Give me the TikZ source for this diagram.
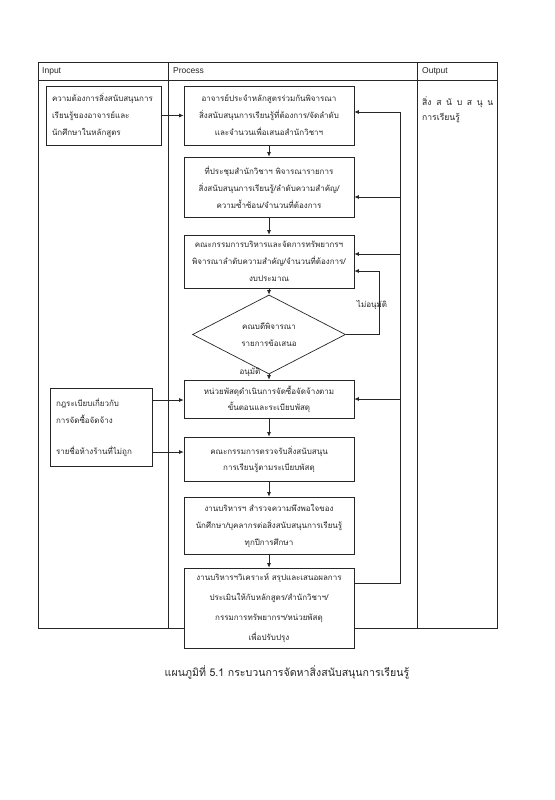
\documentclass[tikz,border=0pt]{standalone}
\usepackage{fontspec}
\usetikzlibrary{arrows.meta,shapes.geometric}
\newfontfamily\thai[Script=Thai]{Loma}
\newfontfamily\lat{Liberation Sans}
\begin{document}
\begin{tikzpicture}[x=1pt,y=-1pt,
  line/.style={draw=black!85,line width=0.7pt},
  arr/.style={line,-{Latex[length=4.5pt,width=4pt]}},
  txt/.style={font=\thai\fontsize{8}{17}\selectfont,inner sep=0pt,text=black!85},
  box/.style={line,fill=white,rectangle,minimum width=170pt,align=center,inner sep=0pt,txt},
  inbox/.style={line,fill=white,rectangle,align=left,inner sep=0pt,txt},
  hdr/.style={font=\lat\fontsize{8.5}{10}\selectfont,anchor=west,inner sep=0pt,text=black!85}]
\useasboundingbox[fill=white] (0,0) rectangle (554,800);
% table
\draw[line] (38,62) rectangle (497,628);
\draw[line] (38,80) -- (497,80);
\draw[line] (168,62) -- (168,628);
\draw[line] (417,62) -- (417,628);
\node[hdr] (hin) at (42,71) {Input};
\node[hdr] (hpr) at (173,71) {Process};
\node[hdr] (hout) at (422,71) {Output};
% output text
\node[txt,anchor=west,align=left,font=\thai\fontsize{8.6}{15}\selectfont] (out) at (422,110)
  {\makebox[71pt][l]{สิ่ง\hfill ส\hfill นั\hfill บ\hfill ส\hfill นุ\hfill น}\\การเรียนรู้};
% input boxes
\node[inbox,minimum width=115pt,minimum height=59pt,text width=103pt] (in1) at (103.5,115.5)
  {ความต้องการสิ่งสนับสนุนการ\\เรียนรู้ของอาจารย์และ\\นักศึกษาในหลักสูตร};
\node[inbox,minimum width=102pt,minimum height=78pt,text width=90pt] (in2) at (101,427)
  {กฎระเบียบเกี่ยวกับ\\การจัดซื้อจัดจ้าง\\[14pt]รายชื่อห้างร้านที่ไม่ถูก};
% process boxes
\node[box,minimum height=59pt] (b1) at (269,115.5)
  {อาจารย์ประจำหลักสูตรร่วมกันพิจารณา\\สิ่งสนับสนุนการเรียนรู้ที่ต้องการ/จัดลำดับ\\และจำนวนเพื่อเสนอสำนักวิชาฯ};
\node[box,minimum height=60pt] (b2) at (269,187)
  {ที่ประชุมสำนักวิชาฯ พิจารณารายการ\\สิ่งสนับสนุนการเรียนรู้/ลำดับความสำคัญ/\\ความซ้ำซ้อน/จำนวนที่ต้องการ};
\node[box,minimum height=53pt] (b3) at (269,261.5)
  {คณะกรรมการบริหารและจัดการทรัพยากรฯ\\พิจารณาลำดับความสำคัญ/จำนวนที่ต้องการ/\\งบประมาณ};
\node[line,fill=white,diamond,minimum width=153pt,minimum height=65pt,inner sep=0pt,align=center,txt] (dia) at (269,334.5)
  {คณบดีพิจารณา\\รายการข้อเสนอ};
\node[box,minimum height=38pt,font=\thai\fontsize{8}{16}\selectfont] (b4) at (269,399)
  {หน่วยพัสดุดำเนินการจัดซื้อจัดจ้างตาม\\ขั้นตอนและระเบียบพัสดุ};
\node[box,minimum height=44pt,font=\thai\fontsize{8}{16}\selectfont] (b5) at (269,459)
  {คณะกรรมการตรวจรับสิ่งสนับสนุน\\การเรียนรู้ตามระเบียบพัสดุ};
\node[box,minimum height=57pt] (b6) at (269,525.5)
  {งานบริหารฯ สำรวจความพึงพอใจของ\\นักศึกษา/บุคลากรต่อสิ่งสนับสนุนการเรียนรู้\\ทุกปีการศึกษา};
\node[box,minimum height=80pt,font=\thai\fontsize{8}{20}\selectfont] (b7) at (269,608)
  {งานบริหารฯวิเคราะห์ สรุปและเสนอผลการ\\ประเมินให้กับหลักสูตร/สำนักวิชาฯ/\\กรรมการทรัพยากรฯ/หน่วยพัสดุ\\เพื่อปรับปรุง};
% main flow
\draw[arr] (b1) -- (b2);
\draw[arr] (b2) -- (b3);
\draw[arr] (b3) -- (dia);
\draw[arr] (dia) -- (b4);
\draw[arr] (b4) -- (b5);
\draw[arr] (b5) -- (b6);
\draw[arr] (b6) -- (b7);
% inputs
\draw[arr] (in1) -- (b1);
\coordinate (i2a) at (152,400);
\coordinate (i2b) at (152,452);
\draw[arr] (i2a -| in2.east) -- (i2a -| b4.west);
\draw[arr] (i2b -| in2.east) -- (i2b -| b5.west);
% feedback loop
\coordinate (lt) at (400,112);
\coordinate (lb) at (400,583);
\coordinate (l2) at (400,197);
\coordinate (l3) at (400,254);
\coordinate (l4) at (400,399);
\draw[line] (lb -| b7.east) -- (lb) -- (lt);
\draw[arr] (lt) -- (lt -| b1.east);
\draw[arr] (l2) -- (l2 -| b2.east);
\draw[arr] (l3) -- (l3 -| b3.east);
\draw[arr] (l4) -- (l4 -| b4.east);
% not approved loop
\coordinate (dr) at (379,271);
\draw[arr] (dia.east) -| (dr) -- (dr -| b3.east);
\node[txt] (no) at (372,305) {ไม่อนุมัติ};
\node[txt] (yes) at (250,372) {อนุมัติ};
% caption
\node[txt,font=\thai\fontsize{10.6}{12}\selectfont] (cap) at (287,672) {แผนภูมิที่ 5.1 กระบวนการจัดหาสิ่งสนับสนุนการเรียนรู้};
\end{tikzpicture}
\end{document}
